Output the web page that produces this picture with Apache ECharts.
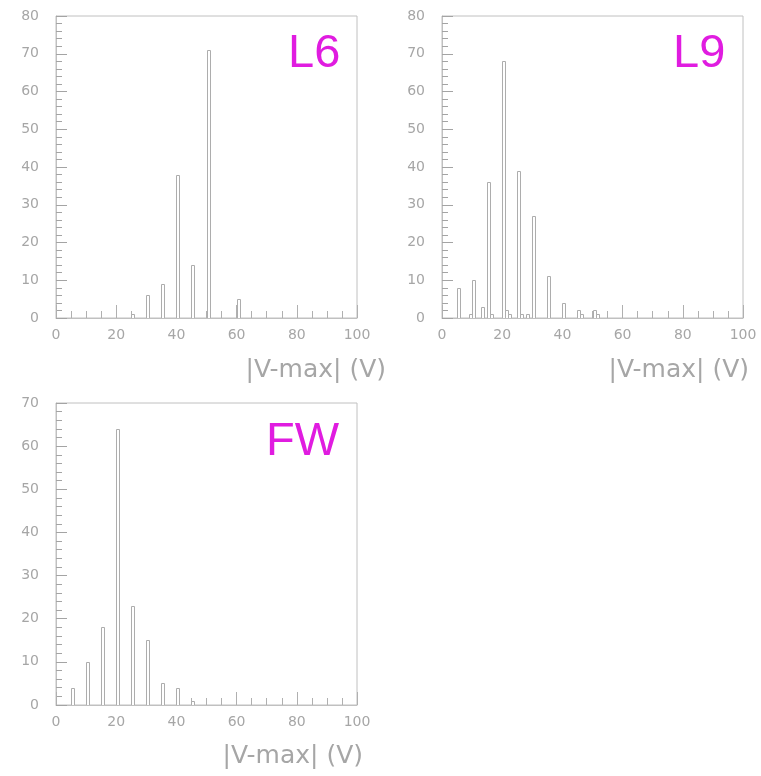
<!DOCTYPE html>
<html>
<head>
<meta charset="utf-8">
<script src="https://cdn.jsdelivr.net/npm/echarts@6/dist/echarts.min.js"></script>
<style>
html,body{margin:0;padding:0;background:#fff;}
#chart{width:761px;height:776px;}
</style>
</head>
<body>
<div id="chart"></div>
<script>
// Histogram bins (lower edge, bin width 1 V) and counts
var l6Bins   = [25, 30, 35, 40, 45, 50, 60];
var l6Counts = [1, 6, 9, 38, 14, 71, 5];

var l9Bins   = [5, 9, 10, 13, 15, 16, 20, 21, 22, 25, 26, 28, 30, 35, 40, 45, 46, 50, 51];
var l9Counts = [8, 1, 10, 3, 36, 1, 68, 2, 1, 39, 1, 1, 27, 11, 4, 2, 1, 2, 1];

var fwBins   = [5, 10, 15, 20, 25, 30, 35, 40, 45];
var fwCounts = [4, 10, 18, 64, 23, 15, 5, 4, 1];

var panelLabels = ["L6", "L9", "FW"];
var xTitle = "|V-max| (V)";
var xMax = 100;
var yMaxes = [80, 80, 70];

var binWidth = 1;

var chart = echarts.init(document.getElementById('chart'), null, {renderer: 'canvas'});

var frameColor = '#c0c0c0';
var tickColor = '#b0b0b0';
var yTickColor = '#a4a4a4';
var textColor = '#a6a6a6';
var barStroke = '#adadad';
var magenta = '#e01ce0';

function pairs(bins, counts) {
  return bins.map(function (b, i) { return [b, counts[i]]; });
}

var grids = [
  {left: 56, top: 16, width: 301, height: 302},
  {left: 442, top: 16, width: 301, height: 302},
  {left: 56, top: 403, width: 301, height: 302}
];

function xAxisFor(i) {
  return {
    type: 'value', gridIndex: i, min: 0, max: xMax, interval: 20,
    axisLine: {show: true, lineStyle: {color: frameColor, width: 1}},
    axisTick: {show: true, inside: true, length: 13, lineStyle: {color: tickColor}},
    minorTick: {show: true, splitNumber: 4, length: 7, lineStyle: {color: tickColor}},
    splitLine: {show: false},
    axisLabel: {color: textColor, fontFamily: 'DejaVu Sans', fontSize: 14, margin: 10}
  };
}
function yAxisFor(i) {
  return {
    type: 'value', gridIndex: i, min: 0, max: yMaxes[i], interval: 10,
    axisLine: {show: true, lineStyle: {color: frameColor, width: 1}},
    axisTick: {show: true, inside: true, length: 11, lineStyle: {color: yTickColor, width: 1}},
    minorTick: {show: true, splitNumber: 5, length: 6, lineStyle: {color: yTickColor, width: 1}},
    splitLine: {show: false},
    axisLabel: {color: textColor, fontFamily: 'DejaVu Sans', fontSize: 14, margin: 17}
  };
}

function renderBar(params, api) {
  var x0 = api.value(0);
  var y = api.value(1);
  var p1 = api.coord([x0, y]);
  var p2 = api.coord([x0 + binWidth, 0]);
  return {
    type: 'rect',
    shape: {x: Math.round(p1[0]) + 0.5, y: Math.round(p1[1]) + 0.5,
            width: Math.max(1, Math.round(p2[0] - p1[0])), height: Math.round(p2[1] - p1[1])},
    style: {fill: '#ffffff', stroke: barStroke, lineWidth: 1}
  };
}

var datasets = [pairs(l6Bins, l6Counts), pairs(l9Bins, l9Counts), pairs(fwBins, fwCounts)];

var series = datasets.map(function (d, i) {
  return {
    type: 'custom', xAxisIndex: i, yAxisIndex: i,
    renderItem: renderBar, data: d, clip: true, silent: true
  };
});

var graphics = [
  {type: 'text', left: 288, top: 31, style: {text: panelLabels[0], fill: magenta, font: '47px "Liberation Sans"'}},
  {type: 'text', left: 673, top: 31, style: {text: panelLabels[1], fill: magenta, font: '47px "Liberation Sans"'}},
  {type: 'text', left: 266, top: 419, style: {text: panelLabels[2], fill: magenta, font: '47px "Liberation Sans"'}},
  {type: 'text', right: 761 - 386, top: 358, style: {text: xTitle, fill: textColor, font: '25px "DejaVu Sans"'}},
  {type: 'text', right: 761 - 749, top: 358, style: {text: xTitle, fill: textColor, font: '25px "DejaVu Sans"'}},
  {type: 'text', right: 761 - 363, top: 744, style: {text: xTitle, fill: textColor, font: '25px "DejaVu Sans"'}}
];

chart.setOption({
  animation: false,
  backgroundColor: '#ffffff',
  grid: grids.map(function (g) {
    return Object.assign({show: true, borderColor: frameColor, borderWidth: 1}, g);
  }),
  xAxis: [xAxisFor(0), xAxisFor(1), xAxisFor(2)],
  yAxis: [yAxisFor(0), yAxisFor(1), yAxisFor(2)],
  series: series,
  graphic: graphics
});
</script>
</body>
</html>
